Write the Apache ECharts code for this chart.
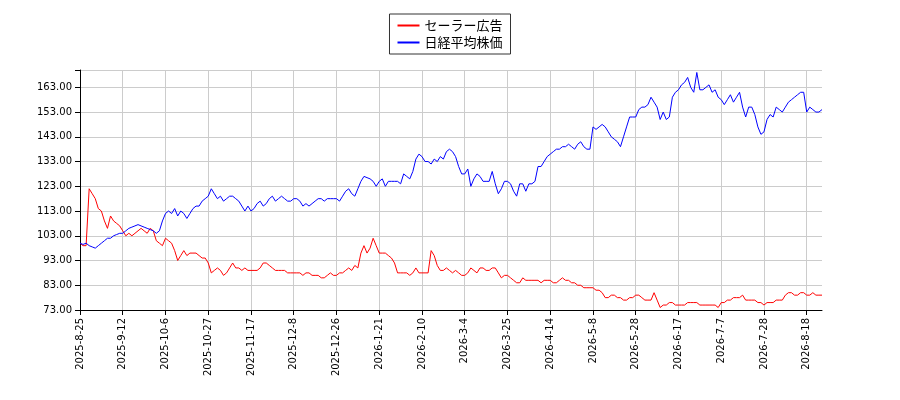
<!DOCTYPE html>
<html><head><meta charset="utf-8">
<script src="https://cdn.jsdelivr.net/npm/echarts@6/dist/echarts.min.js"></script>
<style>html,body{margin:0;padding:0;background:#fff}#c{width:900px;height:400px}</style>
</head><body><div id="c"></div>
<script>
const tickLabels=["2025-8-25","2025-9-12","2025-10-6","2025-10-27","2025-11-17","2025-12-8","2025-12-26","2026-1-21","2026-2-10","2026-3-4","2026-3-25","2026-4-14","2026-5-8","2026-5-28","2026-6-17","2026-7-7","2026-7-28","2026-8-18"];
const sailor=[100,99,99,122,120,118,114,113,109,106,111,109,108,107,
105,103,104,103,104,105,106,105,104,106,105,101,100,99,
102,101,100,97,93,95,97,95,96,96,96,95,94,94,
92,88,89,90,89,87,88,90,92,90,90,89,90,89,
89,89,89,90,92,92,91,90,89,89,89,89,88,88,
88,88,88,87,88,88,87,87,87,86,86,87,88,87,
87,88,88,89,90,89,91,90,96,99,96,98,102,99,
96,96,96,95,94,92,88,88,88,88,87,88,90,88,
88,88,88,97,95,91,89,89,90,89,88,89,88,87,
87,88,90,89,88,90,90,89,89,90,90,88,86,87,
87,86,85,84,84,86,85,85,85,85,85,84,85,85,
85,84,84,85,86,85,85,84,84,83,83,82,82,82,
82,81,81,80,78,78,79,79,78,78,77,77,78,78,
79,79,78,77,77,77,80,77,74,75,75,76,76,75,
75,75,75,76,76,76,76,75,75,75,75,75,75,74,
76,76,77,77,78,78,78,79,77,77,77,77,76,76,
75,76,76,76,77,77,77,79,80,80,79,79,80,80,
79,79,80,79,79,79];
const nikkei=[100,99.5,100,99,98.5,98,99,100,101,102,102,103,103.5,104,
104,105,106,106.5,107,107.5,107,106.5,106,105.5,105,104,105,109,
112,113,112,114,111,113,112,110,112,114,115,115,117,118,
119,122,120,118,119,117,118,119,119,118,117,115,113,115,
113,114,116,117,115,116,118,119,117,118,119,118,117,117,
118,118,117,115,116,115,116,117,118,118,117,118,118,118,
118,117,119,121,122,120,119,122,125,127,126.5,126,125,123,
125,126,123,125,125,125,125,124,128,127,126,129,134,136,
135,133,133,132,134,133,135,134,137,138,137,135,131,128,
128,130,123,126,128,127,125,125,125,129,124,120,122,125,
125,124,121,119,124,124,121,124,124,125,131,131,133,135,
136,137,138,138,139,139,140,139,138,140,141,139,138,138,
147,146,147,148,147,145,143,142,141,139,143,147,151,151,
151,154,155,155,156,159,157,155,150,153,150,151,159,161,
162,164,165,167,163,161,169,162,162,163,164,161,162,159,
158,156,158,160,157,159,161,155,151,155,155,152,147,144,
145,150,152,151,155,154,153,155,157,158,159,160,161,161,
153,155,154,153,153,154];
const cats=sailor.map((_,i)=>String(i));
const chart=echarts.init(document.getElementById('c'));
chart.setOption({
  animation:false,
  legend:{top:14,left:'center',orient:'vertical',borderColor:'#333',borderWidth:1,borderRadius:0,padding:[5,8],itemGap:4,
    itemWidth:22,itemHeight:2,textStyle:{fontSize:13,color:'#000',fontFamily:'Noto Sans CJK JP'},
    data:[{name:'セーラー広告',icon:'rect'},{name:'日経平均株価',icon:'rect'}]},
  grid:{left:80,right:78,top:70,bottom:90},
  xAxis:{type:'category',data:cats,boundaryGap:false,
    axisLine:{lineStyle:{color:'#000'}},
    axisTick:{interval:13,lineStyle:{color:'#000'}},
    axisLabel:{interval:13,rotate:90,fontSize:10,color:'#000',fontFamily:'DejaVu Sans',formatter:(v,i)=>tickLabels[i/14]||''},
    splitLine:{show:true,interval:13,lineStyle:{color:'#ccc'}}},
  yAxis:{type:'value',min:73,max:170,interval:10,
    axisLine:{show:true,lineStyle:{color:'#000'}},axisTick:{show:true,lineStyle:{color:'#000'}},
    axisLabel:{fontSize:10,color:'#000',fontFamily:'DejaVu Sans',formatter:v=>v===170?'':v.toFixed(2)},
    splitLine:{lineStyle:{color:'#ccc'}}},
  series:[
    {name:'セーラー広告',type:'line',data:sailor,symbol:'none',lineStyle:{color:'#f00',width:1},itemStyle:{color:'#f00'}},
    {name:'日経平均株価',type:'line',data:nikkei,symbol:'none',lineStyle:{color:'#00f',width:1},itemStyle:{color:'#00f'}}
  ]
});
</script></body></html>
